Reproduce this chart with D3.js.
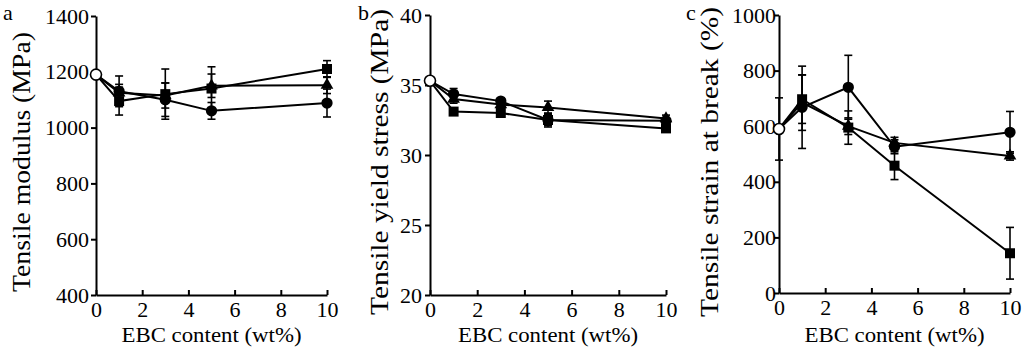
<!DOCTYPE html>
<html><head><meta charset="utf-8">
<script src="https://cdn.jsdelivr.net/npm/d3@7"></script>
<style>html,body{margin:0;padding:0;background:#fff;} svg{display:block;}</style>
</head><body>
<svg id="chart" width="1024" height="352"></svg>
<script>
// ---- data ----
const xValues = [0, 1, 3, 5, 10];
const xTicks = [0, 2, 4, 6, 8, 10];
const xTitle = "EBC content (wt%)";

// panel a: tensile modulus
const modulusTicks = [400, 600, 800, 1000, 1200, 1400];
const modulusCircle = [1190, 1130, 1100, 1060, 1088];
const modulusCircleErr = [0, 55, 60, 30, 50];
const modulusTriangle = [1190, 1125, 1115, 1150, 1152];
const modulusTriangleErr = [0, 30, 45, 42, 30];
const modulusSquare = [1190, 1095, 1120, 1140, 1210];
const modulusSquareErr = [0, 50, 90, 78, 30];

// panel b: tensile yield stress
const yieldTicks = [20, 25, 30, 35, 40];
const yieldCircle = [35.3, 34.35, 33.85, 32.5, 32.45];
const yieldCircleErr = [0, 0.4, 0.2, 0.5, 0.2];
const yieldTriangle = [35.3, 34.0, 33.6, 33.4, 32.6];
const yieldTriangleErr = [0, 0.3, 0.2, 0.45, 0.25];
const yieldSquare = [35.3, 33.1, 33.0, 32.5, 31.9];
const yieldSquareErr = [0, 0.2, 0.2, 0.4, 0.2];

// panel c: tensile strain at break
const strainTicks = [0, 200, 400, 600, 800, 1000];
const strainCircle = [590, 668, 740, 526, 578];
const strainCircleErr = [112, 148, 115, 25, 75];
const strainTriangle = [590, 685, 600, 540, 493];
const strainTriangleErr = [0, 100, 30, 20, 15];
const strainSquare = [590, 697, 595, 458, 143];
const strainSquareErr = [0, 87, 60, 50, 93];

// ---- layout ----
const panels = [
  {letter: "a", title: "Tensile modulus (MPa)", ticks: modulusTicks, domain: [400, 1400],
   x0: 96, x1: 327, y0: 295, y1: 16, pad: 2, titleX: 21, titleLen: 260, letterX: 3,
   series: [[modulusCircle, modulusCircleErr, "circle"], [modulusTriangle, modulusTriangleErr, "triangle"], [modulusSquare, modulusSquareErr, "square"]]},
  {letter: "b", title: "Tensile yield stress (MPa)", ticks: yieldTicks, domain: [20, 40],
   x0: 430, x1: 666, y0: 295, y1: 15, pad: 3, titleX: 379, titleLen: 306, letterX: 358,
   series: [[yieldCircle, yieldCircleErr, "circle"], [yieldTriangle, yieldTriangleErr, "triangle"], [yieldSquare, yieldSquareErr, "square"]]},
  {letter: "c", title: "Tensile strain at break (%)", ticks: strainTicks, domain: [0, 1000],
   x0: 779, x1: 1010, y0: 293, y1: 15, pad: -2, titleX: 709, titleLen: 310, letterX: 686,
   series: [[strainCircle, strainCircleErr, "circle"], [strainTriangle, strainTriangleErr, "triangle"], [strainSquare, strainSquareErr, "square"]]}
];

const svg = d3.select("#chart");
const FONT = "Liberation Serif, Times New Roman, Times, serif";

panels.forEach(p => {
  const x = d3.scaleLinear().domain([0, 10]).range([p.x0, p.x1]);
  const y = d3.scaleLinear().domain(p.domain).range([p.y0, p.y1]);
  const g = svg.append("g").attr("font-family", FONT);

  // axes
  const xa = g.append("g").attr("transform", `translate(0,${p.y0})`)
    .call(d3.axisBottom(x).tickValues(xTicks).tickSizeInner(-5).tickSizeOuter(0).tickPadding(6).tickFormat(d3.format("d")));
  const ya = g.append("g").attr("transform", `translate(${p.x0},0)`)
    .call(d3.axisLeft(y).tickValues(p.ticks).tickSizeInner(5).tickSizeOuter(0).tickPadding(p.pad).tickFormat(d3.format("d")));
  [xa, ya].forEach(a => {
    a.attr("font-family", FONT).attr("font-size", 22);
    a.select(".domain").attr("stroke", "#000").attr("stroke-width", 2);
    a.selectAll(".tick line").attr("stroke", "#000").attr("stroke-width", 2);
    a.selectAll("text").attr("fill", "#000");
  });
  xa.selectAll("text").attr("dy", "0.71em");

  // titles
  g.append("text").attr("x", (p.x0 + p.x1) / 2).attr("y", 342).attr("text-anchor", "middle")
    .attr("font-size", 22).attr("textLength", 180).attr("lengthAdjust", "spacingAndGlyphs").text(xTitle);
  g.append("text").attr("transform", `translate(${p.titleX},${(10 + 320) / 2 - 3}) rotate(-90)`)
    .attr("text-anchor", "middle").attr("dy", "0.35em")
    .attr("textLength", p.titleLen).attr("lengthAdjust", "spacingAndGlyphs")
    .attr("font-size", 25).text(p.title);
  g.append("text").attr("x", p.letterX).attr("y", 20)
    .attr("font-size", 22).text(p.letter);

  const line = d3.line().x((d, i) => x(xValues[i])).y(d => y(d));

  // lines
  p.series.forEach(([vals]) => {
    g.append("path").datum(vals).attr("d", line).attr("fill", "none")
      .attr("stroke", "#000").attr("stroke-width", 2);
  });
  // error bars
  p.series.forEach(([vals, errs]) => {
    vals.forEach((v, i) => {
      const e = errs[i];
      if (!e) return;
      const cx = x(xValues[i]);
      const eg = g.append("g").attr("stroke", "#000").attr("stroke-width", 1.6);
      eg.append("line").attr("x1", cx).attr("x2", cx).attr("y1", y(v - e)).attr("y2", y(v + e));
      eg.append("line").attr("x1", cx - 4).attr("x2", cx + 4).attr("y1", y(v - e)).attr("y2", y(v - e));
      eg.append("line").attr("x1", cx - 4).attr("x2", cx + 4).attr("y1", y(v + e)).attr("y2", y(v + e));
    });
  });
  // markers
  const sym = {circle: d3.symbolCircle, triangle: d3.symbolTriangle, square: d3.symbolSquare};
  const size = {circle: 100, triangle: 70, square: 100};
  p.series.forEach(([vals, errs, shape]) => {
    vals.forEach((v, i) => {
      if (i === 0) return;
      g.append("path").attr("d", d3.symbol().type(sym[shape]).size(size[shape])())
        .attr("transform", `translate(${x(xValues[i])},${y(v)})`).attr("fill", "#000");
    });
  });
  // open circle for neat sample
  const v0 = p.series[0][0][0];
  g.append("circle").attr("cx", x(0)).attr("cy", y(v0)).attr("r", 5.5)
    .attr("fill", "#fff").attr("stroke", "#000").attr("stroke-width", 1.6);
});
</script>
</body></html>
